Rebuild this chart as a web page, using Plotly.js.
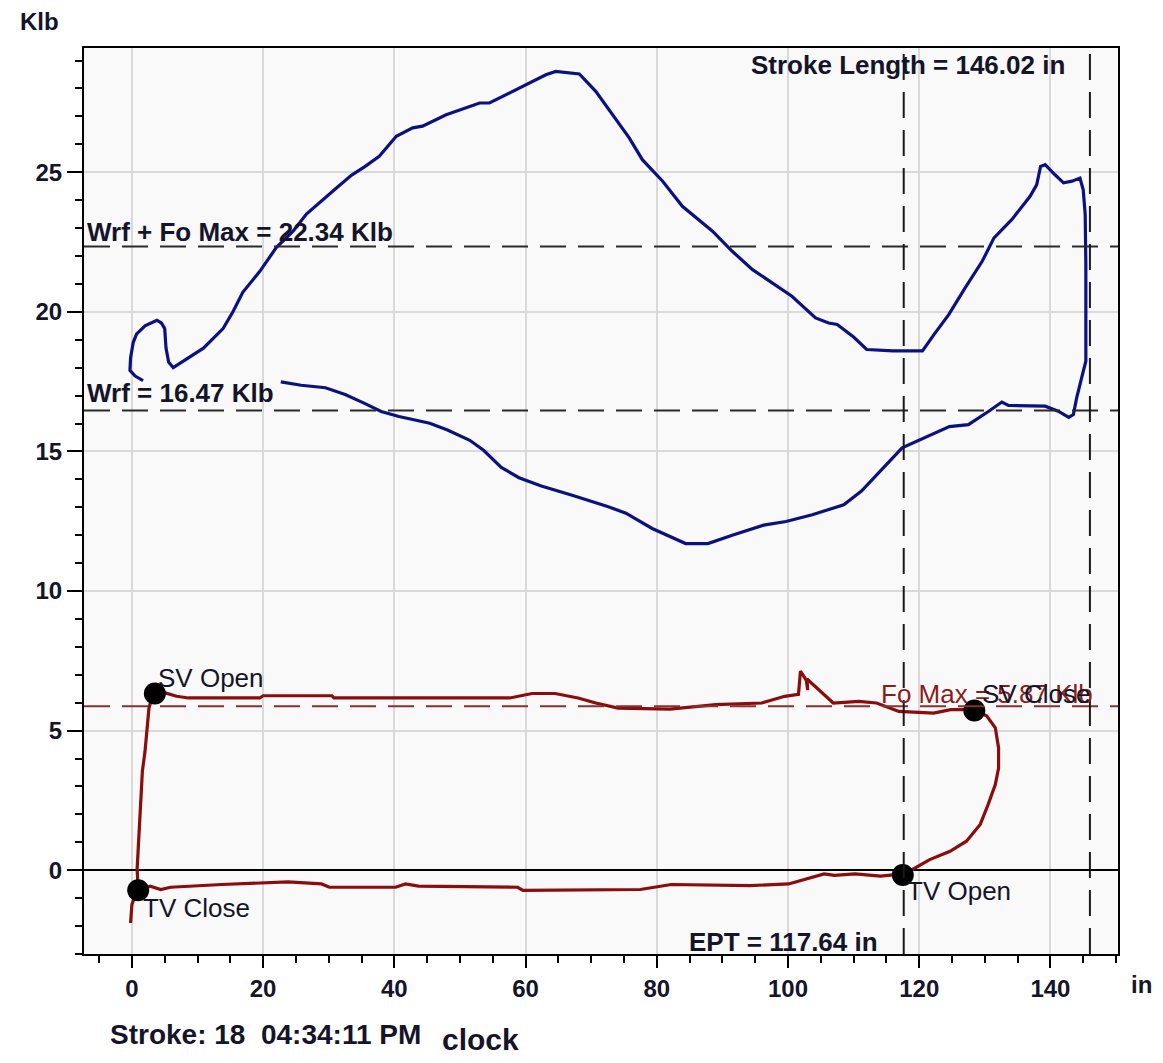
<!DOCTYPE html>
<html>
<head>
<meta charset="utf-8">
<script src="https://cdn.plot.ly/plotly-3.0.1.min.js"></script>
<style>
html,body{margin:0;padding:0;background:#fff;}
#chart{width:1163px;height:1063px;}
</style>
</head>
<body>
<div id="chart"></div>
<script>
// Surface (polished rod) card, position in inches, load in Klb
const surfX = [1.7,0.5,-0.3,-0.2,0.2,0.7,2.0,3.8,4.5,5.0,5.2,5.6,6.3,8.3,10.9,13.9,15.4,16.9,19.5,22.0,24.6,26.6,28.5,31,33.5,35.5,37.7,40.3,42.8,44.3,47.9,53.0,54.5,59.6,63.1,64.6,68.2,70.7,73.3,75.8,77.8,80.9,83.9,88.5,91.5,94.6,100.6,104.2,106.2,107.5,110,112,116,120.5,122.3,124.5,127.0,129.6,131.4,134.1,136.9,137.9,138.5,139.2,140.7,142.0,143.3,144.5,145.0,145.3,145.4,145.4,145.0,144.0,143.5,142.8,141.2,139.2,133.6,132.6,130.6,127.5,124.6,120.0,117.4,114.6,111.2,108.5,103.7,99.7,96.3,91.5,87.8,84.4,79.3,75.3,72.5,67.1,62.4,59.0,56.3,53.6,51.5,48.1,45.4,40.7,38.0,35.3,32.5,29.5,25.8,22.7];
const surfY = [17.54,17.7,17.9,18.35,18.9,19.2,19.5,19.7,19.6,19.4,18.7,18.2,18.0,18.3,18.7,19.4,20.0,20.7,21.45,22.3,22.9,23.5,23.9,24.4,24.9,25.2,25.57,26.29,26.59,26.65,27.06,27.48,27.48,28.08,28.49,28.61,28.52,27.90,27.06,26.23,25.45,24.68,23.78,22.89,22.17,21.51,20.56,19.78,19.6,19.55,19.1,18.65,18.6,18.6,19.2,19.9,20.86,21.81,22.65,23.30,24.14,24.55,25.21,25.27,24.91,24.62,24.68,24.79,24.37,23.48,21.69,18.23,17.87,16.92,16.32,16.22,16.44,16.62,16.65,16.77,16.44,15.96,15.89,15.40,15.13,14.43,13.58,13.09,12.73,12.49,12.36,12.00,11.70,11.70,12.24,12.79,13.03,13.43,13.76,14.06,14.43,15.04,15.40,15.77,16.01,16.25,16.43,16.74,17.04,17.28,17.37,17.49];

// Downhole (pump) card
const pumpX = [-0.2,0.0,0.5,0.96,0.8,1.2,1.6,2.0,2.3,2.6,3.2,3.5,5.1,6.8,8.6,19.5,20,30.5,30.8,57.6,61.0,64.5,68.0,70.7,74.1,82.0,89.0,96.0,99.5,101.6,101.9,102.8,103.0,102.9,106.9,110.8,113.5,116.9,122.2,124.8,128.4,130.3,131.6,132.1,132.1,131.6,130.5,129.3,127.2,124.7,121.6,117.5,116.8,114.1,110.2,107.1,105.5,103.2,100.1,94.2,82.2,77.5,59.6,58.8,43.7,41.7,40.2,30.1,28.9,23.8,13.7,5.9,4.4,2.8,0.96];
const pumpY = [-1.89,-1.23,-0.9,-0.72,0.05,1.87,3.55,4.26,5.1,5.81,6.29,6.33,6.35,6.23,6.17,6.17,6.25,6.25,6.17,6.17,6.33,6.33,6.17,5.99,5.81,5.77,5.93,5.99,6.23,6.3,7.13,6.8,6.45,6.85,5.99,6.05,5.99,5.69,5.63,5.75,5.75,5.52,5.10,4.38,3.66,3.07,2.35,1.64,1.04,0.68,0.38,-0.17,-0.15,-0.21,-0.13,-0.18,-0.13,-0.28,-0.49,-0.55,-0.51,-0.69,-0.72,-0.61,-0.57,-0.49,-0.61,-0.61,-0.49,-0.42,-0.51,-0.61,-0.69,-0.57,-0.72];

// Valve events
const valveNames = ["TV Close","SV Open","SV Close","TV Open"];
const valveX = [0.96,3.5,128.4,117.5];
const valveY = [-0.72,6.33,5.72,-0.17];

// Reference values
const wrf = 16.47;
const wrfFoMax = 22.34;
const foMax = 5.87;
const ept = 117.64;
const strokeLength = 146.02;

// Axis ticks
const xTicks = [0,20,40,60,80,100,120,140];
const yTicks = [0,5,10,15,20,25];

const txtColor = '#14142a';
const font = 'Liberation Sans, Arial, sans-serif';

const traces = [
  {x: surfX, y: surfY, mode: 'lines', line: {color: '#0c1180', width: 3.2}, hoverinfo: 'skip'},
  {x: pumpX, y: pumpY, mode: 'lines', line: {color: '#8a0c0c', width: 3.2}, hoverinfo: 'skip'},
  {x: valveX, y: valveY, mode: 'markers', marker: {color: '#000', size: 22}, hoverinfo: 'skip'}
];

const dash = '26px,12px';
const shapes = [
  {type:'line', xref:'paper', x0:0, x1:1, yref:'y', y0:wrfFoMax, y1:wrfFoMax, line:{color:'#2a2a2a', width:2, dash:dash}},
  {type:'line', xref:'paper', x0:0, x1:1, yref:'y', y0:wrf, y1:wrf, line:{color:'#2a2a2a', width:2, dash:dash}},
  {type:'line', xref:'paper', x0:0, x1:1, yref:'y', y0:foMax, y1:foMax, line:{color:'#8b3030', width:2, dash:dash}},
  {type:'line', yref:'paper', y0:0, y1:1, xref:'x', x0:ept, x1:ept, line:{color:'#1a1a1a', width:2, dash:dash}},
  {type:'line', yref:'paper', y0:0, y1:1, xref:'x', x0:strokeLength, x1:strokeLength, line:{color:'#1a1a1a', width:2, dash:dash}}
];

const boldF = {family: font, size: 26, color: txtColor, weight: 'bold'};
function ann(text, x, y, xanchor, f) {
  return {text: text, x: x, y: y, xref: 'x', yref: 'y', xanchor: xanchor, yanchor: 'middle',
    showarrow: false, font: f || {family: font, size: 26, color: txtColor}};
}

const annotations = [
  ann('Wrf + Fo Max = ' + wrfFoMax.toFixed(2) + ' Klb', -7.2, 22.86, 'left', boldF),
  ann('Wrf = ' + wrf.toFixed(2) + ' Klb', -7.2, 17.08, 'left', boldF),
  ann('Stroke Length = ' + strokeLength.toFixed(2) + ' in', 142.6, 28.85, 'right', boldF),
  ann('EPT = ' + ept.toFixed(2) + ' in', 114.0, -2.58, 'right', boldF),
  ann('Fo Max = ' + foMax.toFixed(2) + ' Klb', 146.8, 6.3, 'right', {family:font, size:26, color:'#8b1c1c'}),
  ann(valveNames[1], 3.6, 6.88, 'left'),
  ann(valveNames[0], 1.4, -1.36, 'left'),
  ann(valveNames[3], 117.8, -0.75, 'left'),
  ann(valveNames[2], 129.2, 6.3, 'left'),
  {text:'Klb', xref:'paper', yref:'paper', x:-0.064, y:1.0287, xanchor:'left', yanchor:'middle', showarrow:false,
   font:{family:font, size:24, color:txtColor, weight:'bold'}},
  {text:'in', xref:'paper', yref:'paper', x:1.023, y:-0.034, xanchor:'center', yanchor:'middle', showarrow:false,
   font:{family:font, size:24, color:txtColor, weight:'bold'}},
  {text:'Stroke: 18\u00a0\u00a004:34:11 PM', xref:'paper', yref:'paper', x:0.0232, y:-0.0894, xanchor:'left', yanchor:'middle', showarrow:false,
   font:{family:font, size:28, color:txtColor, weight:'bold'}},
  {text:'clock', xref:'paper', yref:'paper', x:0.344, y:-0.0949, xanchor:'left', yanchor:'middle', showarrow:false,
   font:{family:font, size:30, color:txtColor, weight:'bold'}}
];

const layout = {
  width: 1163, height: 1063,
  margin: {l: 84, r: 45, t: 48, b: 109, pad: 0},
  paper_bgcolor: '#ffffff',
  plot_bgcolor: '#f9f9f9',
  showlegend: false,
  xaxis: {
    range: [-7.3, 150.3], tickvals: xTicks, ticktext: xTicks.map(String),
    ticks: 'outside', ticklen: 12, tickwidth: 2, tickcolor: '#000',
    showgrid: true, gridcolor: '#d9d9d9', gridwidth: 2, zeroline: false,
    showline: true, linecolor: '#000', linewidth: 2, mirror: true,
    tickfont: {family: font, size: 24, color: txtColor, weight: 'bold'},
    minor: {dtick: 5, tick0: 0, ticks: 'outside', ticklen: 7, tickwidth: 2, tickcolor: '#000', showgrid: false},
    fixedrange: true
  },
  yaxis: {
    range: [-3.0, 29.45], tickvals: yTicks, ticktext: yTicks.map(String),
    ticks: 'outside', ticklen: 15, tickwidth: 2, tickcolor: '#000',
    showgrid: true, gridcolor: '#d9d9d9', gridwidth: 2,
    zeroline: true, zerolinecolor: '#000', zerolinewidth: 2,
    showline: true, linecolor: '#000', linewidth: 2, mirror: true,
    tickfont: {family: font, size: 24, color: txtColor, weight: 'bold'},
    minor: {dtick: 1, tick0: 0, ticks: 'outside', ticklen: 7, tickwidth: 2, tickcolor: '#000', showgrid: false},
    fixedrange: true
  },
  shapes: shapes,
  annotations: annotations
};

Plotly.newPlot('chart', traces, layout, {staticPlot: true, displayModeBar: false});
</script>
</body>
</html>
